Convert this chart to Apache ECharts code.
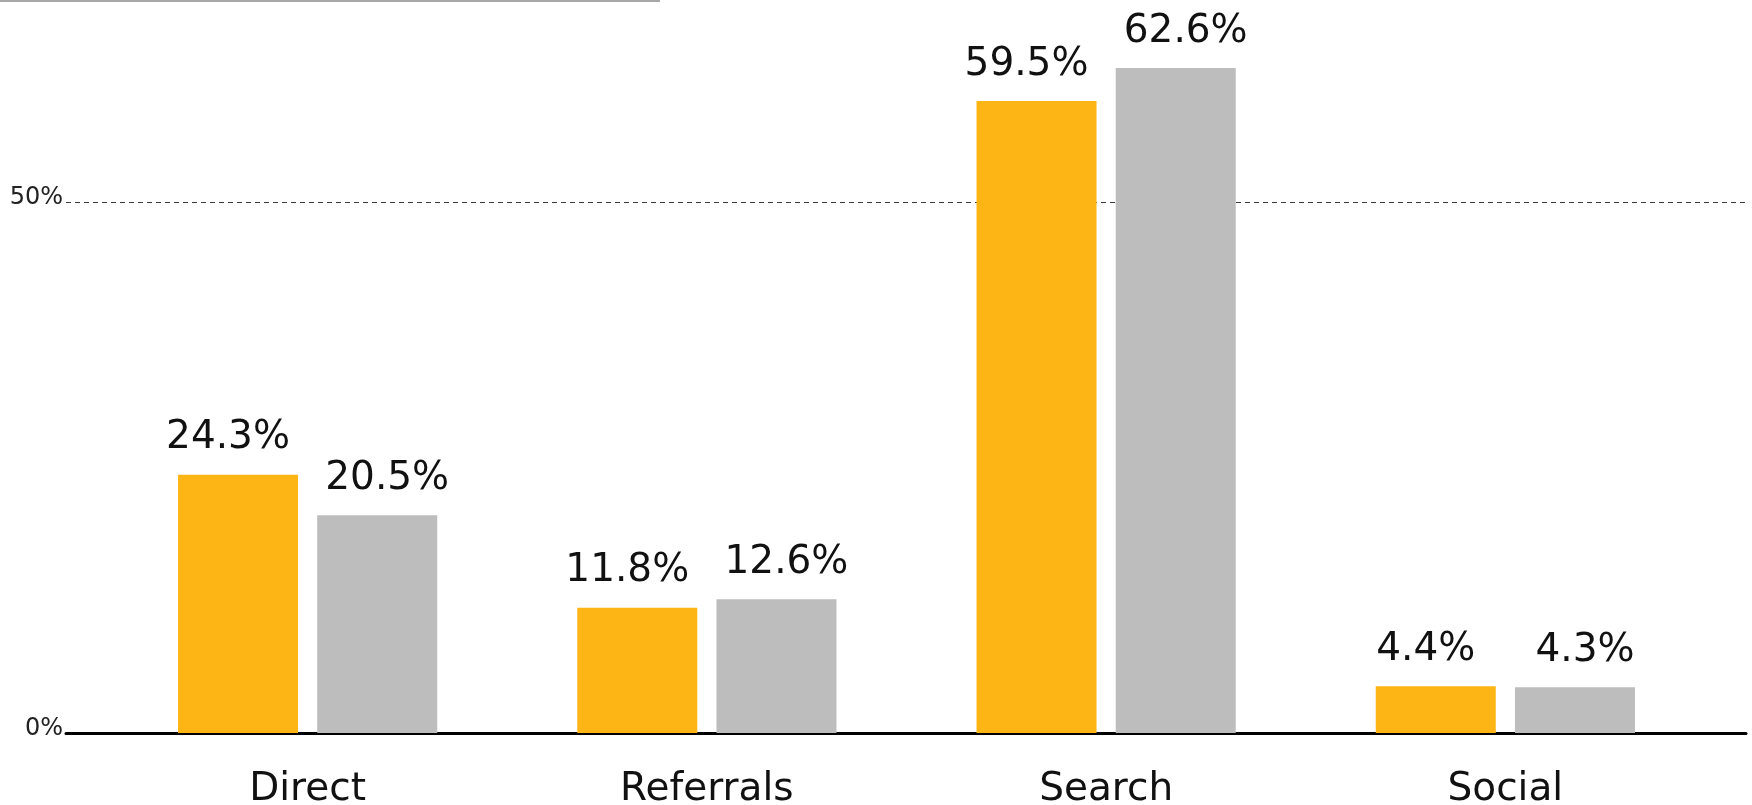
<!DOCTYPE html>
<html>
<head>
<meta charset="utf-8">
<title>Traffic sources</title>
<script src="https://cdn.jsdelivr.net/npm/echarts@6/dist/echarts.min.js"></script>
<style>
    html, body {margin: 0; padding: 0; background: #fff;}
    #chart {width: 1752px; height: 805px;}
</style>
</head>
<body>
<div id="chart"></div>
<script>
// data
var categories = ['Direct', 'Referrals', 'Search', 'Social']
var seriesNames = ['Period 1', 'Period 2']
var orangeValues = [24.3, 11.8, 59.5, 4.4]
var grayValues = [20.5, 12.6, 62.6, 4.3]
var yTicks = [0, 50]

var font = 'DejaVu Sans, Verdana, sans-serif'

// y scale: 0 sits at 733px, 50 at ~201.7px -> the top edge of the page is ~69%
var yMax = 69
var gridTop = 0
var gridBottom = 72

var chart = echarts.init(document.getElementById('chart'))

var option = {
    animation: false,
    backgroundColor: '#fff',
    textStyle: {fontFamily: font},
    graphic: [
        {
            type: 'line',
            shape: {x1: 0, y1: 1, x2: 660, y2: 1},
            style: {stroke: '#a8a8a8', lineWidth: 2}
        }
    ],
    grid: [
        // wide grid: baseline + dashed 50% line
        {left: 66, right: 6, top: gridTop, bottom: gridBottom, outerBoundsMode: 'none'},
        // narrower grid holding the bars
        {left: 108, right: 47, top: gridTop, bottom: gridBottom, outerBoundsMode: 'none'}
    ],
    xAxis: [
        {
            type: 'category',
            gridIndex: 0,
            data: categories,
            axisLine: {show: true, lineStyle: {color: '#000', width: 3}},
            axisTick: {show: false},
            axisLabel: {show: false}
        },
        {
            type: 'category',
            gridIndex: 1,
            data: categories,
            axisLine: {show: false},
            axisTick: {show: false},
            axisLabel: {
                color: '#111',
                fontSize: 39,
                fontFamily: font,
                margin: 37
            }
        }
    ],
    yAxis: [
        {
            type: 'value',
            gridIndex: 0,
            min: 0,
            max: yMax,
            interval: 50,
            axisLine: {show: false},
            axisTick: {show: false},
            axisLabel: {
                color: '#222',
                fontSize: 24,
                fontFamily: font,
                margin: 3,
                verticalAlign: 'bottom',
                lineHeight: 9,
                formatter: function (v) {
                    return yTicks.indexOf(v) > -1 ? v + '%' : ''
                }
            },
            splitLine: {
                show: true,
                showMaxLine: false,
                lineStyle: {color: '#3a3a3a', width: 1, type: [5, 4]}
            }
        },
        {
            type: 'value',
            gridIndex: 1,
            min: 0,
            max: yMax,
            interval: 50,
            show: false,
            splitLine: {show: false}
        }
    ],
    series: [
        {
            name: seriesNames[0],
            type: 'bar',
            xAxisIndex: 1,
            yAxisIndex: 1,
            data: orangeValues,
            barWidth: 120,
            barGap: '16%',
            itemStyle: {color: '#fdb515'},
            label: {
                show: true,
                position: 'top',
                distance: 17,
                offset: [-10, 0],
                color: '#111',
                fontSize: 39,
                fontFamily: font,
                formatter: '{c}%'
            }
        },
        {
            name: seriesNames[1],
            type: 'bar',
            xAxisIndex: 1,
            yAxisIndex: 1,
            data: grayValues,
            barWidth: 120,
            itemStyle: {color: '#bdbdbd'},
            label: {
                show: true,
                position: 'top',
                distance: 17,
                offset: [10, 0],
                color: '#111',
                fontSize: 39,
                fontFamily: font,
                formatter: '{c}%'
            }
        }
    ]
}

chart.setOption(option)
</script>
</body>
</html>
